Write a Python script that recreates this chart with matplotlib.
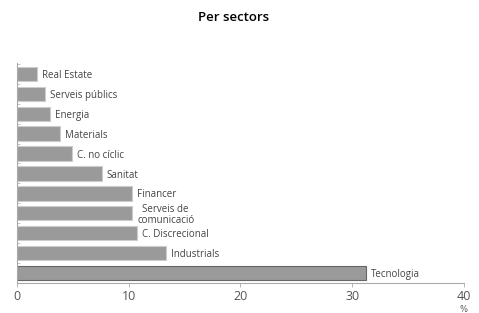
import matplotlib
matplotlib.use("Agg")
import matplotlib.pyplot as plt
import numpy as np

# Data
sectors = ["Real Estate", "Serveis públics", "Energia", "Materials", "C. no cíclic",
           "Sanitat", "Financer", "Serveis de\ncomunicació", "C. Discrecional",
           "Industrials", "Tecnologia"]
values = [1.8, 2.5, 2.95, 3.85, 4.9, 7.6, 10.3, 10.3, 10.7, 13.3, 31.2]
xticks = [0, 10, 20, 30, 40]

fig = plt.figure(figsize=(4.79, 3.13), dpi=100)
ax = fig.add_axes([0.0355, 0.096, 0.933, 0.703])

y = np.arange(len(sectors))
bars = ax.barh(y, values, height=0.72, color="#9a9a9a", edgecolor="#cccccc", linewidth=0.8)
bars[-1].set_edgecolor("#666666")

for yi, v, lab in zip(y, values, sectors):
    ax.text(v + 0.45, yi + 0.08, lab, va="center", ha="left", fontsize=7, color="#444444",
            linespacing=1.0, multialignment="center", family="Open Sans")

ax.set_ylim(len(sectors) - 0.5, -0.55)
ax.set_xlim(0, 40)
ax.set_xticks(xticks)
ax.set_xticklabels([str(t) for t in xticks], fontsize=9, color="#555555", family="Open Sans")
ax.set_yticks(np.arange(len(sectors) + 1) - 0.5)
ax.set_yticklabels([])
ax.tick_params(axis="y", direction="in", length=2.5, width=0.6, color="#bbbbbb")
ax.tick_params(axis="x", direction="out", length=3, width=0.6, color="#aaaaaa", pad=2)

for s in ["top", "right"]:
    ax.spines[s].set_visible(False)
for s in ["left", "bottom"]:
    ax.spines[s].set_color("#aaaaaa")
    ax.spines[s].set_linewidth(0.8)

ax.text(40, -0.1, "%", transform=ax.get_xaxis_transform(), ha="center", va="top",
        fontsize=6, color="#555555")

fig.text(0.487, 0.945, "Per sectors", ha="center", va="center", fontsize=9.5,
         fontweight="semibold", family="Open Sans")

fig.savefig("out.png", dpi=100)
